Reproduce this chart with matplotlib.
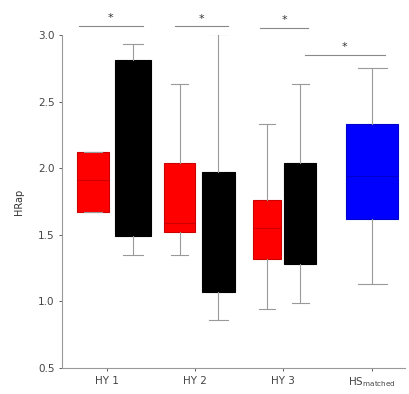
import matplotlib
matplotlib.use("Agg")
import matplotlib.pyplot as plt

# Box statistics per group (HRap)
labels = ["HY1 pre", "HY1 post", "HY2 pre", "HY2 post", "HY3 pre", "HY3 post", "HS"]
q1 = [1.67, 1.49, 1.52, 1.07, 1.32, 1.28, 1.62]
med = [1.91, 2.10, 1.59, 1.50, 1.55, 1.65, 1.94]
q3 = [2.12, 2.81, 2.04, 1.97, 1.76, 2.04, 2.33]
whislo = [1.67, 1.35, 1.35, 0.86, 0.94, 0.99, 1.13]
whishi = [2.12, 2.93, 2.63, 3.01, 2.33, 2.63, 2.75]
positions = [0.77, 1.23, 1.77, 2.22, 2.78, 3.17, 4.0]
widths = [0.37, 0.42, 0.36, 0.39, 0.33, 0.37, 0.61]
colors = ["#ff0000", "#000000", "#ff0000", "#000000", "#ff0000", "#000000", "#0000ff"]
edges = ["#cc0000", "#000000", "#cc0000", "#000000", "#cc0000", "#000000", "#0000cc"]

xtick_pos = [0.93, 1.95, 2.97, 4.0]
xtick_labels = ["HY 1", "HY 2", "HY 3", r"HS$_{\mathrm{matched}}$"]
yticks = [0.5, 1.0, 1.5, 2.0, 2.5, 3.0]

# Significance brackets: (x start, x end, y)
sig_bars = [(0.60, 1.35, 3.07), (1.72, 2.33, 3.065), (2.70, 3.26, 3.055), (3.22, 4.15, 2.85)]

fig = plt.figure(figsize=(4.09, 3.94), dpi=100)
ax = fig.add_axes([0.152, 0.066, 0.838, 0.845])

stats = []
for i in range(len(labels)):
    stats.append(dict(label=labels[i], q1=q1[i], med=med[i], q3=q3[i],
                      whislo=whislo[i], whishi=whishi[i], fliers=[]))

bp = ax.bxp(stats, positions=positions, widths=widths, patch_artist=True,
            showfliers=False, manage_ticks=False,
            whiskerprops=dict(color="#9a9a9a", linewidth=0.8),
            capprops=dict(color="#9a9a9a", linewidth=0.8),
            medianprops=dict(linewidth=0.8))
for i, box in enumerate(bp["boxes"]):
    box.set_facecolor(colors[i])
    box.set_edgecolor(edges[i])
    box.set_linewidth(0.8)
for i, m in enumerate(bp["medians"]):
    m.set_color(edges[i])
for i, cap in enumerate(bp["caps"]):
    w = widths[i // 2] * 0.55
    x = positions[i // 2]
    cap.set_xdata([x - w / 2, x + w / 2])

for x0, x1, y in sig_bars:
    ax.plot([x0, x1], [y, y], color="#888888", linewidth=0.8, clip_on=False)
    ax.text((x0 + x1) / 2, y + 0.02, "*", ha="center", va="bottom",
            fontsize=8, color="#333333", clip_on=False)

ax.set_xlim(0.41, 4.38)
ax.set_ylim(0.5, 3.0)
ax.set_yticks(yticks)
ax.set_yticklabels([f"{v:.1f}" for v in yticks])
ax.set_xticks(xtick_pos)
ax.set_xticklabels(xtick_labels)
ax.tick_params(axis="both", labelsize=7.5, colors="#444444", length=2, width=0.6)
ax.set_ylabel("HRap", fontsize=7, color="#333333", labelpad=10)
for side in ["top", "right"]:
    ax.spines[side].set_visible(False)
for side in ["left", "bottom"]:
    ax.spines[side].set_color("#999999")
    ax.spines[side].set_linewidth(0.8)

fig.savefig("out.png", dpi=100)
